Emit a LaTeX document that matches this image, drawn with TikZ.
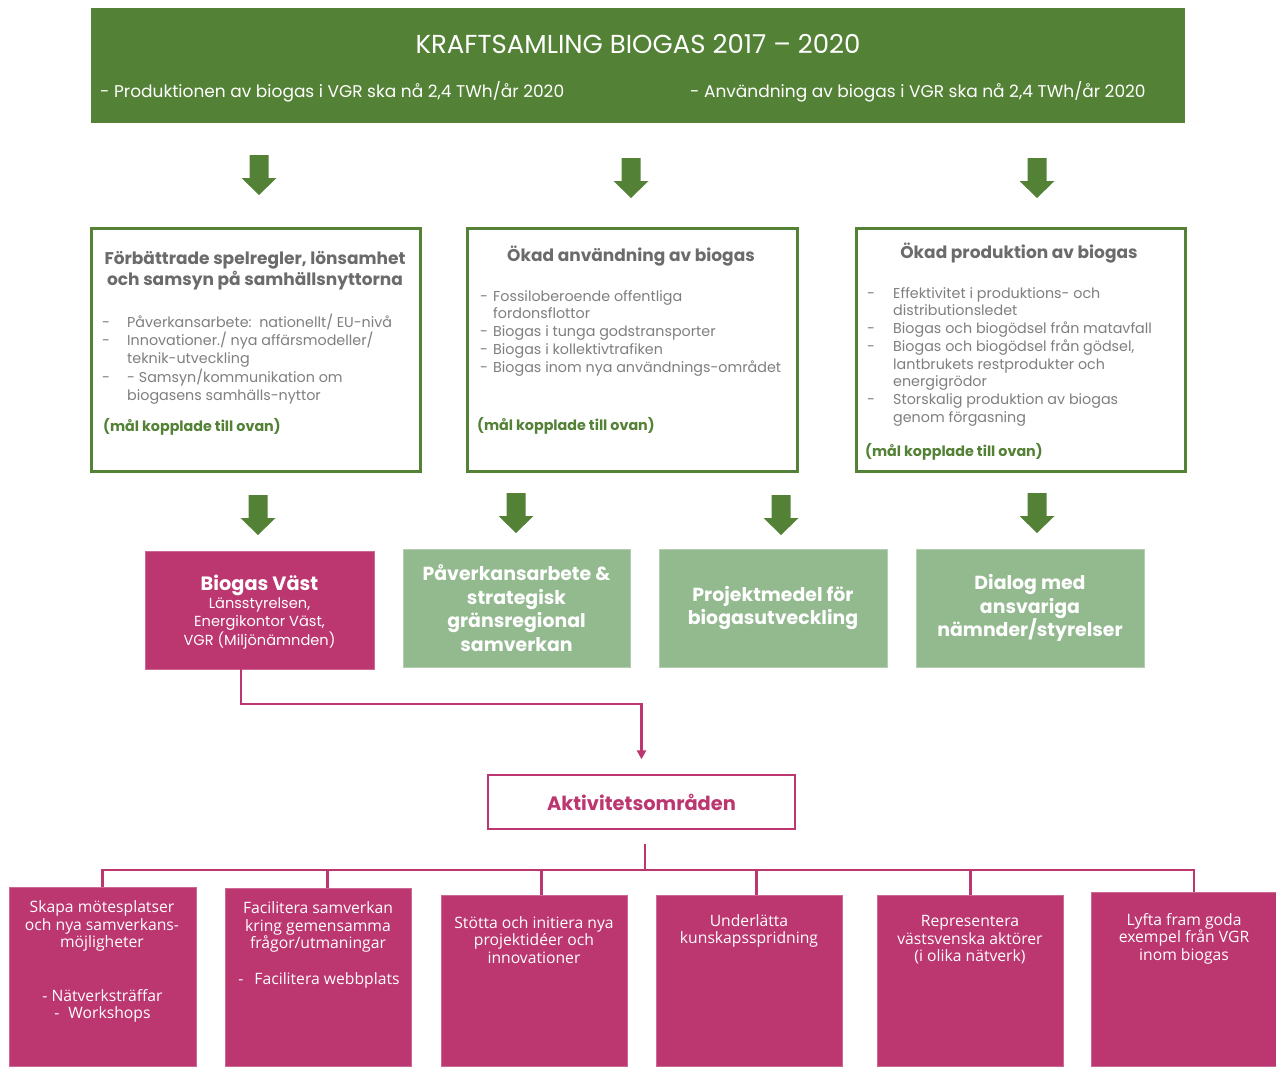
\documentclass[tikz,border=0pt]{standalone}
\usepackage{fontspec}
\setmainfont{Poppins}
\newfontfamily\osans{Open Sans}
\usetikzlibrary{arrows.meta}
\definecolor{dgreen}{HTML}{538135}
\definecolor{lgreen}{HTML}{93B98F}
\definecolor{mag}{HTML}{BC3670}
\definecolor{tgrey}{HTML}{6B6B6B}
\definecolor{lgrey}{HTML}{7F7F7F}
\newcommand\garrow[2]{\fill[dgreen] ({#1-9.5},{#2}) -- ({#1+9.5},{#2}) -- ({#1+9.5},{#2+23}) -- ({#1+17.5},{#2+23}) -- ({#1},{#2+40}) -- ({#1-17.5},{#2+23}) -- ({#1-9.5},{#2+23}) -- cycle;}
\tikzset{
  banner/.style={fill=dgreen, draw=none, anchor=north west, inner sep=0},
  goalbox/.style={draw=dgreen, line width=3pt, fill=white, anchor=north west, inner sep=0},
  gtitle/.style={text=tgrey, font=\bfseries\fontsize{17}{21}\selectfont, align=center, inner sep=0},
  glist/.style={text=lgrey, font=\fontsize{14.3}{17.75}\selectfont, anchor=north west, inner sep=0},
  gnote/.style={text=dgreen, font=\bfseries\fontsize{14.3}{16}\selectfont, anchor=west, inner sep=0},
  lgbox/.style={fill=lgreen, draw=lgreen!70!white, line width=1pt, minimum width=227, minimum height=118, text=white, font=\bfseries\fontsize{18.9}{23.7}\selectfont, align=center, inner sep=0},
  magbox/.style={fill=mag, draw=mag!75!white, line width=0.8pt, anchor=north west, inner sep=0},
  magline/.style={draw=mag, line width=2.5pt},
  btext/.style={text=white, font=\osans\fontsize{15.7}{17.5}\selectfont, align=center, inner sep=0},
}
\begin{document}
\begin{tikzpicture}[x=1pt,y=-1pt]
\useasboundingbox (0,0) rectangle (1276,1066);
% banner
\node[banner, minimum width=1094, minimum height=115] (ban) at (91,8) {};
\node[text=white, font=\fontsize{26}{30}\selectfont, inner sep=0] (bant) at (638,44) {KRAFTSAMLING BIOGAS 2017 – 2020};
\node[text=white, font=\fontsize{17}{20}\selectfont, anchor=west, inner sep=0] (bans1) at (100,92) {- Produktionen av biogas i VGR ska nå 2,4 TWh/år 2020};
\node[text=white, font=\fontsize{17}{20}\selectfont, anchor=west, inner sep=0] (bans2) at (690,92) {- Användning av biogas i VGR ska nå 2,4 TWh/år 2020};
% top arrows
\garrow{259}{155}
\garrow{631}{158}
\garrow{1037}{158}
% goal boxes
\node[goalbox, minimum width=329, minimum height=243] (g1) at (90,227) {};
\node[goalbox, minimum width=330, minimum height=243] (g2) at (466,227) {};
\node[goalbox, minimum width=329, minimum height=243] (g3) at (855,227) {};
\node[gtitle] (g1t) at (255,270.5) {Förbättrade spelregler, lönsamhet\\och samsyn på samhällsnyttorna};
\node[gtitle] (g2t) at (631,256) {Ökad användning av biogas};
\node[gtitle] (g3t) at (1019,253) {Ökad produktion av biogas};
\node[glist] (g1l) at (102,313.5) {\begin{tabular}{@{}p{25pt}@{}l@{}}
-&Påverkansarbete:\ \ nationellt/ EU-nivå\\
-&Innovationer./ nya affärsmodeller/\\
&teknik-utveckling\\
-&- Samsyn/kommunikation om\\
&biogasens samhälls-nyttor
\end{tabular}};
\node[glist] (g2l) at (480,288.5) {\begin{tabular}{@{}p{13pt}@{}l@{}}
-&Fossiloberoende offentliga\\
&fordonsflottor\\
-&Biogas i tunga godstransporter\\
-&Biogas i kollektivtrafiken\\
-&Biogas inom nya användnings-området
\end{tabular}};
\node[glist] (g3l) at (867,285.5) {\begin{tabular}{@{}p{26pt}@{}l@{}}
-&Effektivitet i produktions- och\\
&distributionsledet\\
-&Biogas och biogödsel från matavfall\\
-&Biogas och biogödsel från gödsel,\\
&lantbrukets restprodukter och\\
&energigrödor\\
-&Storskalig produktion av biogas\\
&genom förgasning
\end{tabular}};
\node[gnote] (g1n) at (103,427) {(mål kopplade till ovan)};
\node[gnote] (g2n) at (477,426) {(mål kopplade till ovan)};
\node[gnote] (g3n) at (865,452) {(mål kopplade till ovan)};
% lower arrows
\garrow{258}{495}
\garrow{516}{493}
\garrow{781}{495}
\garrow{1037}{493}
% middle boxes
\node[fill=mag, draw=mag!75!white, line width=0.8pt, minimum width=229, minimum height=118, inner sep=0] (bv) at (259.5,610) {};
\node[text=white, font=\bfseries\fontsize{19.3}{22}\selectfont, inner sep=0] (bvt) at (259.5,585) {Biogas Väst};
\node[text=white, font=\fontsize{14.6}{17.5}\selectfont, align=center, inner sep=0] (bvs) at (259.5,623.5) {Länsstyrelsen,\\Energikontor Väst,\\VGR (Miljönämnden)};
\node[lgbox] (pa) at (516.5,608) {Påverkansarbete \&\\strategisk\\gränsregional\\samverkan};
\node[lgbox, minimum width=228] (pm) at (773,608) {Projektmedel för\\biogasutveckling};
\node[lgbox, minimum width=228] (dm) at (1030,608) {Dialog med\\ansvariga\\nämnder/styrelser};
% aktivitetsområden
\node[draw=mag, line width=1.3pt, fill=white, minimum width=307, minimum height=54, inner sep=0, text=mag, font=\bfseries\fontsize{19.4}{22}\selectfont] (akt) at (641.5,802) {Aktivitetsområden};
\coordinate (bvout) at (241,669);
\draw[magline, shorten >=15pt, -{Triangle[length=9pt,width=9pt]}] (bvout) -- (241,704) -| (akt.north);
% bottom boxes
\node[magbox, minimum width=187, minimum height=179] (b1) at (9,887) {};
\node[magbox, minimum width=186, minimum height=178] (b2) at (225,888) {};
\node[magbox, minimum width=186, minimum height=171] (b3) at (441,895) {};
\node[magbox, minimum width=186, minimum height=171] (b4) at (656,895) {};
\node[magbox, minimum width=186, minimum height=171] (b5) at (877,895) {};
\node[magbox, minimum width=186, minimum height=174] (b6) at (1091,892) {};
\coordinate (hub) at (645,870);
\draw[magline, shorten <=14pt] (hub |- akt.south) -- (hub);
\draw[magline] (hub) -| ([xshift=-0.5pt]b1.north);
\draw[magline] (hub) -| ([xshift=9pt]b2.north);
\draw[magline] (hub) -| ([xshift=7pt]b3.north);
\draw[magline] (hub) -| ([xshift=7pt]b4.north);
\draw[magline] (hub) -| (b5.north);
\draw[magline] (hub) -| ([xshift=9.5pt]b6.north);
\node[btext] (b1t) at (102,926) {Skapa mötesplatser\\och nya samverkans-\\möjligheter};
\node[btext] (b1s) at (102.5,1006) {- Nätverksträffar\\-\hspace{9pt}Workshops};
\node[btext] (b2t) at (318,927) {Facilitera samverkan\\kring gemensamma\\frågor/utmaningar};
\node[btext] (b2s) at (319,980) {-\hspace{11pt}Facilitera webbplats};
\node[btext] (b3t) at (534,940) {Stötta och initiera nya\\projektidéer och\\innovationer};
\node[btext] (b4t) at (749,931) {Underlätta\\kunskapsspridning};
\node[btext] (b5t) at (970,940) {Representera\\västsvenska aktörer\\(i olika nätverk)};
\node[btext] (b6t) at (1184,938.5) {Lyfta fram goda\\exempel från VGR\\inom biogas};
\end{tikzpicture}
\end{document}
